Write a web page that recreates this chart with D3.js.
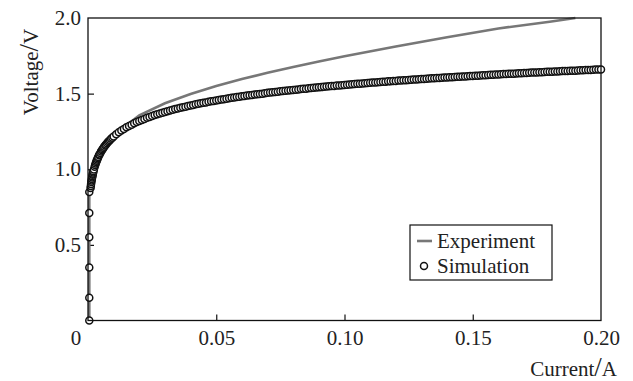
<!DOCTYPE html>
<html>
<head>
<meta charset="utf-8">
<script src="https://cdn.jsdelivr.net/npm/d3@7"></script>
<style>
  body { margin: 0; background: #fff; }
  svg text { font-family: "Liberation Serif", "Tinos", "DejaVu Serif", serif !important; }
</style>
</head>
<body>
<svg id="chart" width="633" height="381"></svg>
<script>
// experiment curve (A, V)
var expCurrent = [0.0005, 0.0005, 0.001, 0.002, 0.003, 0.005, 0.0075, 0.01, 0.015, 0.02, 0.03, 0.04, 0.05,
  0.06, 0.07, 0.08, 0.09, 0.10, 0.12, 0.14, 0.16, 0.18, 0.19];
var expVoltage = [0.00, 0.85, 0.876, 0.98, 1.04, 1.115, 1.175, 1.236, 1.29, 1.357, 1.436, 1.498, 1.55,
  1.596, 1.638, 1.676, 1.713, 1.747, 1.812, 1.873, 1.931, 1.975, 2.0];

// simulation points (A, V), low-current part
var simLowCurrent = [0.0005, 0.0005, 0.0005, 0.0005, 0.0005, 0.0005,
  0.0010, 0.0011, 0.0012, 0.0013, 0.0014, 0.0015, 0.0016, 0.0017, 0.0018, 0.0019, 0.0020, 0.0021,
  0.0023, 0.0026, 0.0028, 0.0030, 0.0032, 0.0034, 0.0036, 0.0038, 0.0040, 0.0043, 0.0045, 0.0048,
  0.0051, 0.0054, 0.0057, 0.0060, 0.0063, 0.0067, 0.0070, 0.0074, 0.0078, 0.0082, 0.0086, 0.0090, 0.0095];
var simLowVoltage = [0.00, 0.15, 0.35, 0.55, 0.71, 0.85,
  0.876, 0.890, 0.903, 0.915, 0.926, 0.936, 0.945, 0.954, 0.963, 0.970, 0.978, 0.986,
  0.999, 1.017, 1.028, 1.038, 1.048, 1.057, 1.065, 1.073, 1.081, 1.092, 1.098, 1.108,
  1.117, 1.125, 1.133, 1.141, 1.148, 1.157, 1.164, 1.172, 1.180, 1.187, 1.194, 1.201, 1.209];

// simulation points, even milliamps
var simCurrent = [0.010, 0.012, 0.014, 0.016, 0.018, 0.020, 0.022, 0.024, 0.026, 0.028, 0.030, 0.032, 0.034, 0.036,
  0.038, 0.040, 0.042, 0.044, 0.046, 0.048, 0.050, 0.052, 0.054, 0.056, 0.058, 0.060, 0.062, 0.064,
  0.066, 0.068, 0.070, 0.072, 0.074, 0.076, 0.078, 0.080, 0.082, 0.084, 0.086, 0.088, 0.090, 0.092,
  0.094, 0.096, 0.098, 0.100, 0.102, 0.104, 0.106, 0.108, 0.110, 0.112, 0.114, 0.116, 0.118, 0.120,
  0.122, 0.124, 0.126, 0.128, 0.130, 0.132, 0.134, 0.136, 0.138, 0.140, 0.142, 0.144, 0.146, 0.148,
  0.150, 0.152, 0.154, 0.156, 0.158, 0.160, 0.162, 0.164, 0.166, 0.168, 0.170, 0.172, 0.174, 0.176,
  0.178, 0.180, 0.182, 0.184, 0.186, 0.188, 0.190, 0.192, 0.194, 0.196, 0.198, 0.200];
var simVoltage = [1.217, 1.244, 1.266, 1.286, 1.304, 1.319, 1.333, 1.346, 1.358, 1.369, 1.379, 1.389, 1.398, 1.406,
  1.414, 1.422, 1.429, 1.436, 1.442, 1.449, 1.455, 1.461, 1.466, 1.472, 1.477, 1.482, 1.487, 1.491,
  1.496, 1.500, 1.505, 1.509, 1.513, 1.517, 1.521, 1.524, 1.528, 1.532, 1.535, 1.539, 1.542, 1.545,
  1.548, 1.551, 1.554, 1.557, 1.560, 1.563, 1.566, 1.569, 1.572, 1.574, 1.577, 1.579, 1.582, 1.584,
  1.587, 1.589, 1.592, 1.594, 1.596, 1.599, 1.601, 1.603, 1.605, 1.607, 1.609, 1.611, 1.613, 1.615,
  1.617, 1.619, 1.621, 1.623, 1.625, 1.627, 1.629, 1.631, 1.632, 1.634, 1.636, 1.638, 1.639, 1.641,
  1.643, 1.644, 1.646, 1.648, 1.649, 1.651, 1.652, 1.654, 1.656, 1.657, 1.659, 1.660];

// simulation points, odd milliamps
var simOddCurrent = [0.011, 0.013, 0.015, 0.017, 0.019, 0.021, 0.023, 0.025, 0.027, 0.029, 0.031, 0.033, 0.035,
  0.037, 0.039, 0.041, 0.043, 0.045, 0.047, 0.049, 0.051, 0.053, 0.055, 0.057, 0.059, 0.061, 0.063,
  0.065, 0.067, 0.069, 0.071, 0.073, 0.075, 0.077, 0.079, 0.081, 0.083, 0.085, 0.087, 0.089, 0.091,
  0.093, 0.095, 0.097, 0.099, 0.101, 0.103, 0.105, 0.107, 0.109, 0.111, 0.113, 0.115, 0.117, 0.119,
  0.121, 0.123, 0.125, 0.127, 0.129, 0.131, 0.133, 0.135, 0.137, 0.139, 0.141, 0.143, 0.145, 0.147,
  0.149, 0.151, 0.153, 0.155, 0.157, 0.159, 0.161, 0.163, 0.165, 0.167, 0.169, 0.171, 0.173, 0.175,
  0.177, 0.179, 0.181, 0.183, 0.185, 0.187, 0.189, 0.191, 0.193, 0.195, 0.197, 0.199];
var simOddVoltage = [1.231, 1.256, 1.277, 1.295, 1.312, 1.326, 1.340, 1.352, 1.364, 1.374, 1.384, 1.393, 1.402,
  1.410, 1.418, 1.425, 1.433, 1.439, 1.446, 1.452, 1.458, 1.463, 1.469, 1.474, 1.479, 1.484, 1.489,
  1.494, 1.498, 1.502, 1.507, 1.511, 1.515, 1.519, 1.523, 1.526, 1.530, 1.533, 1.537, 1.540, 1.543,
  1.547, 1.550, 1.553, 1.556, 1.559, 1.562, 1.565, 1.567, 1.570, 1.573, 1.575, 1.578, 1.581, 1.583,
  1.586, 1.588, 1.590, 1.593, 1.595, 1.597, 1.600, 1.602, 1.604, 1.606, 1.608, 1.610, 1.612, 1.614,
  1.616, 1.618, 1.620, 1.622, 1.624, 1.626, 1.628, 1.630, 1.632, 1.633, 1.635, 1.637, 1.639, 1.640,
  1.642, 1.644, 1.645, 1.647, 1.649, 1.650, 1.652, 1.653, 1.655, 1.656, 1.658, 1.659];

var xTicks = [0.05, 0.10, 0.15, 0.20];
var xTickLabels = ['0.05', '0.10', '0.15', '0.20'];
var yTicks = [0.5, 1.0, 1.5, 2.0];
var yTickLabels = ['0.5', '1.0', '1.5', '2.0'];
var legendLabels = ['Experiment', 'Simulation'];

var serif = '"Liberation Serif", "Tinos", "DejaVu Serif", serif';
var svg = d3.select('#chart');
var plotLeft = 88, plotRight = 601, plotTop = 18, plotBottom = 320.5;

var x = d3.scaleLinear().domain([0, 0.2]).range([plotLeft, plotRight]);
var y = d3.scaleLinear().domain([0, 2]).range([plotBottom, plotTop]);

// axes, ticks point inward
var yAxis = d3.axisLeft(y).tickValues(yTicks)
  .tickFormat(function(d, i) { return yTickLabels[i]; })
  .tickSizeInner(-6).tickSizeOuter(0).tickPadding(7);
var xAxis = d3.axisBottom(x).tickValues(xTicks)
  .tickFormat(function(d, i) { return xTickLabels[i]; })
  .tickSizeInner(-6).tickSizeOuter(0).tickPadding(10);

var gy = svg.append('g').attr('transform', 'translate(' + plotLeft + ',0)').call(yAxis);
var gx = svg.append('g').attr('transform', 'translate(0,' + plotBottom + ')').call(xAxis);
[gx, gy].forEach(function(g) {
  g.attr('font-family', serif);
  g.select('.domain').remove();
  g.selectAll('.tick line').attr('stroke', '#111').attr('stroke-width', 1.2);
  g.selectAll('.tick text').attr('font-size', 21).attr('fill', '#222');
});
gy.selectAll('.tick').filter(function(d) { return d === 2.0; }).select('line').remove();
gx.selectAll('.tick').filter(function(d) { return d === 0.2; }).select('line').remove();

svg.append('text').attr('x', 76).attr('y', 345).attr('text-anchor', 'middle')
  .attr('font-family', serif).attr('font-size', 21).attr('fill', '#222').text('0');

// experiment line
var expData = expCurrent.map(function(c, i) { return [c, expVoltage[i]]; });
svg.append('path')
  .datum(expData)
  .attr('fill', 'none')
  .attr('stroke', '#777')
  .attr('stroke-width', 2.6)
  .attr('d', d3.line().x(function(d) { return x(d[0]); }).y(function(d) { return y(d[1]); }));

// simulation circles
function pairs(cs, vs) { return cs.map(function(c, i) { return [c, vs[i]]; }); }
var simData = pairs(simLowCurrent, simLowVoltage)
  .concat(pairs(simCurrent, simVoltage))
  .concat(pairs(simOddCurrent, simOddVoltage))
  .sort(function(a, b) { return a[0] - b[0] || a[1] - b[1]; });

svg.append('g').selectAll('circle')
  .data(simData)
  .enter().append('circle')
  .attr('cx', function(d) { return x(d[0]); })
  .attr('cy', function(d) { return y(d[1]); })
  .attr('r', 3.5)
  .attr('fill', '#fff')
  .attr('stroke', '#111')
  .attr('stroke-width', 1.5);

// frame
svg.append('rect')
  .attr('x', plotLeft).attr('y', plotTop)
  .attr('width', plotRight - plotLeft).attr('height', plotBottom - plotTop)
  .attr('fill', 'none').attr('stroke', '#111').attr('stroke-width', 1.3);

// axis titles
var yt = svg.append('text')
  .attr('transform', 'translate(38,72) rotate(-90)')
  .attr('text-anchor', 'middle')
  .attr('font-family', serif).attr('font-size', 21).attr('fill', '#222');
yt.append('tspan').text('Voltage');
yt.append('tspan').attr('font-size', 27).text('/');
yt.append('tspan').text('V');

var xt = svg.append('text')
  .attr('x', 617).attr('y', 376)
  .attr('text-anchor', 'end')
  .attr('font-family', serif).attr('font-size', 21).attr('fill', '#222');
xt.append('tspan').text('Current');
xt.append('tspan').attr('font-size', 27).text('/');
xt.append('tspan').text('A');

// legend
var lg = svg.append('g').attr('transform', 'translate(410,225)');
lg.append('rect').attr('width', 142).attr('height', 55)
  .attr('fill', '#fff').attr('stroke', '#111').attr('stroke-width', 1.2);
lg.append('line').attr('x1', 7).attr('x2', 22).attr('y1', 16).attr('y2', 16)
  .attr('stroke', '#777').attr('stroke-width', 2.6);
lg.append('circle').attr('cx', 14).attr('cy', 41).attr('r', 3.5)
  .attr('fill', '#fff').attr('stroke', '#111').attr('stroke-width', 1.5);
lg.selectAll('text.lab')
  .data(legendLabels)
  .enter().append('text')
  .attr('class', 'lab')
  .attr('x', 27)
  .attr('y', function(d, i) { return 23 + i * 25; })
  .attr('font-family', serif).attr('font-size', 21).attr('fill', '#222')
  .text(function(d) { return d; });
</script>
</body>
</html>
